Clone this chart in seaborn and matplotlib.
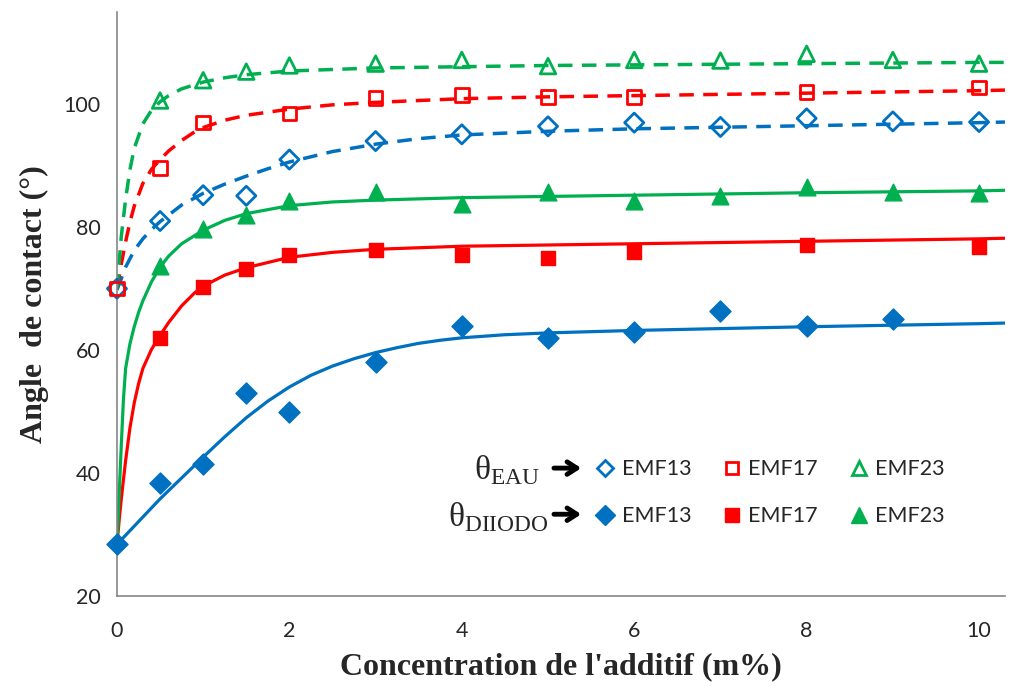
import numpy as np
import seaborn as sns
import matplotlib.pyplot as plt
from matplotlib.lines import Line2D

# measured points (water / diiodomethane contact angles)
x_eau13 = [0, 0.5, 1, 1.5, 2, 3, 4, 5, 6, 7, 8, 9, 10]
y_eau13 = [70, 81, 85.2, 85.1, 91, 94, 95.1, 96.4, 97, 96.3, 97.7, 97.2, 97.1]
x_eau17 = [0, 0.5, 1, 2, 3, 4, 5, 6, 8, 10]
y_eau17 = [70, 89.6, 97, 98.5, 101, 101.5, 101.2, 101.2, 102, 102.7]
x_eau23 = [0.5, 1, 1.5, 2, 3, 4, 5, 6, 7, 8, 9, 10]
y_eau23 = [100.6, 103.9, 105.3, 106.3, 106.6, 107.2, 106.2, 107.2, 107.1, 108.2, 107.2, 106.6]

x_dii13 = [0, 0.5, 1, 1.5, 2, 3, 4, 5, 6, 7, 8, 9]
y_dii13 = [28.4, 38.4, 41.5, 53, 49.9, 58, 64, 62, 63, 66.3, 63.9, 65]
x_dii17 = [0.5, 1, 1.5, 2, 3, 4, 5, 6, 8, 10]
y_dii17 = [62, 70.3, 73.2, 75.5, 76.3, 75.5, 75, 76, 77.1, 76.7]
x_dii23 = [0.5, 1, 1.5, 2, 3, 4, 5, 6, 7, 8, 9, 10]
y_dii23 = [73.7, 79.7, 82, 84.3, 85.8, 83.7, 85.8, 84.3, 85, 86.5, 85.7, 85.5]

# trend curves
fx_eau13 = [0, 0.05, 0.1, 0.2, 0.3, 0.4, 0.5, 0.75, 1, 1.25, 1.5, 1.75, 2, 2.5, 3, 3.5, 4, 5, 6, 8, 10, 10.3]
fy_eau13 = [69.8, 71.6, 73.5, 76.2, 78.1, 79.6, 80.9, 83.6, 85.5, 87, 88.3, 89.5, 90.6, 92.3, 93.5, 94.4, 95, 95.6, 96, 96.5, 97, 97.1]
fx_eau17 = [0, 0.05, 0.1, 0.15, 0.2, 0.3, 0.4, 0.5, 0.6, 0.75, 0.9, 1, 1.25, 1.5, 2, 2.5, 3, 4, 5, 6, 8, 10, 10.3]
fy_eau17 = [70, 74, 77.6, 80.8, 83.4, 87.1, 89.4, 91, 92.4, 94.1, 95.5, 96.2, 97.4, 98.2, 99.2, 99.9, 100.3, 100.9, 101.2, 101.4, 101.8, 102.2, 102.3]
fx_eau23 = [0, 0.03, 0.05, 0.1, 0.15, 0.2, 0.3, 0.4, 0.5, 0.6, 0.75, 1, 1.25, 1.5, 2, 3, 4, 5, 6, 8, 10, 10.3]
fy_eau23 = [70, 75, 78.5, 84.5, 89.3, 92.8, 96.8, 99, 100.4, 101.4, 102.5, 103.6, 104.3, 104.8, 105.4, 105.9, 106.1, 106.3, 106.4, 106.6, 106.8, 106.8]

fx_dii13 = [0, 0.5, 1, 1.25, 1.5, 1.75, 2, 2.25, 2.5, 2.75, 3, 3.25, 3.5, 3.75, 4, 4.5, 5, 6, 8, 10, 10.3]
fy_dii13 = [28.4, 35.8, 42.6, 45.9, 49, 51.7, 54, 55.9, 57.4, 58.6, 59.6, 60.4, 61.1, 61.6, 62, 62.5, 62.8, 63.2, 63.8, 64.3, 64.4]
fx_dii17 = [0, 0.03, 0.05, 0.1, 0.15, 0.2, 0.25, 0.3, 0.4, 0.5, 0.6, 0.75, 0.9, 1, 1.25, 1.5, 2, 2.5, 3, 4, 5, 6, 8, 10, 10.3]
fy_dii17 = [28.4, 33, 35.8, 42, 47.3, 51.4, 54.5, 57, 60.1, 62.4, 64.5, 67.2, 69.3, 70.4, 72.2, 73.4, 75.1, 75.9, 76.4, 76.9, 77.1, 77.3, 77.7, 78.1, 78.2]
fx_dii23 = [0, 0.03, 0.05, 0.075, 0.1, 0.15, 0.2, 0.25, 0.3, 0.4, 0.5, 0.6, 0.75, 1, 1.25, 1.5, 2, 2.5, 3, 4, 5, 6, 8, 10, 10.3]
fy_dii23 = [28.4, 38, 44.5, 52, 57, 61, 63.8, 66.1, 68, 71.1, 73.5, 75.3, 77.3, 79.5, 81.1, 82.2, 83.5, 84.1, 84.4, 84.8, 85, 85.2, 85.6, 85.9, 86]

blue, red, green = '#0070C0', '#FF0000', '#00B050'
grey = '#868686'

sns.set_style('white')
plt.rcParams['mathtext.fontset'] = 'custom'
plt.rcParams['mathtext.rm'] = 'Liberation Serif'

fig = plt.figure(figsize=(10.11, 6.86), dpi=100)
ax = fig.add_axes([0.1157, 0.1312, 0.8783, 0.8513])

# trend lines
dash = (0, (4.2, 2.7))
for fx, fy, c in [(fx_eau13, fy_eau13, blue), (fx_eau17, fy_eau17, red), (fx_eau23, fy_eau23, green)]:
    sns.lineplot(x=fx, y=fy, ax=ax, color=c, lw=2.5, linestyle=dash, errorbar=None, zorder=2)
for fx, fy, c in [(fx_dii13, fy_dii13, blue), (fx_dii17, fy_dii17, red), (fx_dii23, fy_dii23, green)]:
    sns.lineplot(x=fx, y=fy, ax=ax, color=c, lw=2.3, errorbar=None, zorder=2)

# open markers (water)
mk = {'D': 95, 's': 95, '^': 125}
for xs, ys, m, c in [(x_eau13, y_eau13, 'D', blue), (x_eau17, y_eau17, 's', red), (x_eau23, y_eau23, '^', green)]:
    sns.scatterplot(x=xs, y=ys, ax=ax, marker=m, s=mk[m], facecolor='none', edgecolor=c,
                    linewidth=2, zorder=3, clip_on=False)
# filled markers (diiodomethane)
for xs, ys, m, c in [(x_dii13, y_dii13, 'D', blue), (x_dii17, y_dii17, 's', red), (x_dii23, y_dii23, '^', green)]:
    sns.scatterplot(x=xs, y=ys, ax=ax, marker=m, s=mk[m] + 20, color=c, edgecolor=c,
                    linewidth=1, zorder=3, clip_on=False)

ax.set_xlim(0, 10.3)
ax.set_ylim(20, 115)
ax.set_xticks(range(0, 11, 2))
ax.set_yticks(range(20, 101, 20))
for s in ['top', 'right']:
    ax.spines[s].set_visible(False)
for s in ['left', 'bottom']:
    ax.spines[s].set_color(grey)
    ax.spines[s].set_linewidth(1.2)
ax.tick_params(direction='out', length=6, width=1.2, color=grey, labelsize=15.5)
ax.tick_params(axis='x', pad=12)
ax.tick_params(axis='y', pad=6)
for lab in ax.get_xticklabels() + ax.get_yticklabels():
    lab.set_family('Lato')

ax.set_xlabel("Concentration de l'additif (m%)", family='Liberation Serif', fontweight='bold',
              fontsize=23, labelpad=8)
ax.set_ylabel('Angle  de contact (°)', family='Liberation Serif', fontweight='bold',
              fontsize=23, labelpad=10)

# legend block
handles = [
    Line2D([], [], ls='', marker='D', ms=8.5, mfc='none', mec=blue, mew=2),
    Line2D([], [], ls='', marker='D', ms=10, mfc=blue, mec=blue),
    Line2D([], [], ls='', marker='s', ms=9, mfc='none', mec=red, mew=2),
    Line2D([], [], ls='', marker='s', ms=10, mfc=red, mec=red),
    Line2D([], [], ls='', marker='^', ms=10, mfc='none', mec=green, mew=2),
    Line2D([], [], ls='', marker='^', ms=11, mfc=green, mec=green),
]
labels = ['EMF13', 'EMF13', 'EMF17', 'EMF17', 'EMF23', 'EMF23']
leg = ax.legend(handles, labels, ncol=3, frameon=False, loc='center left',
                bbox_to_anchor=(0.527, 0.177), borderpad=0, handlelength=0.9,
                handletextpad=0.3, columnspacing=1.45, labelspacing=1.25,
                prop={'family': 'Lato', 'size': 15.5})

ax.text(0.476, 0.200, 'θ$_{\\mathrm{EAU}}$', transform=ax.transAxes, ha='right', va='baseline',
        fontsize=24, family='Liberation Serif')
ax.text(0.486, 0.120, 'θ$_{\\mathrm{DIIODO}}$', transform=ax.transAxes, ha='right', va='baseline',
        fontsize=24, family='Liberation Serif')
for yy in [0.219, 0.140]:
    ax.annotate('', xy=(0.526, yy), xytext=(0.489, yy), xycoords='axes fraction',
                arrowprops=dict(arrowstyle='->, head_length=0.7, head_width=0.45', lw=3.5, color='black'))

fig.savefig('out.png', dpi=100)
